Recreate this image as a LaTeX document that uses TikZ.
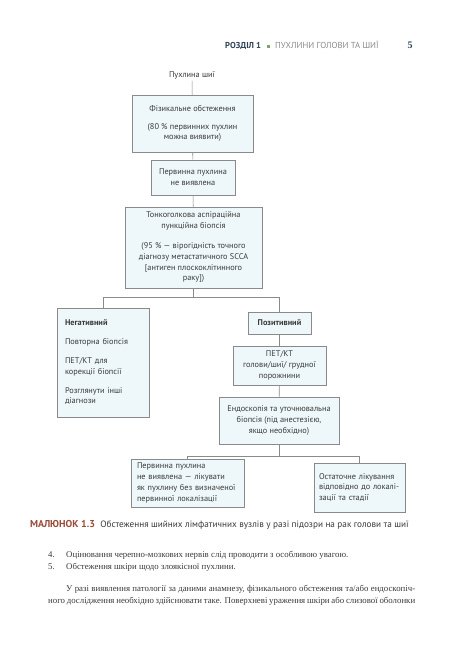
\documentclass[tikz,border=0pt]{standalone}
\usepackage{fontspec}
\setmainfont{PT Sans}
\newfontfamily\bodyfont{Liberation Serif}
\usetikzlibrary{positioning,calc}
\definecolor{Ink}{HTML}{3A3A3A}
\definecolor{Frame}{HTML}{8A8A8A}
\definecolor{Pale}{HTML}{EEF8FA}
\definecolor{Navy}{HTML}{2F4257}
\definecolor{Leaf}{HTML}{7FA36A}
\definecolor{Rust}{HTML}{9B4A38}
\definecolor{Greyish}{HTML}{8C8C8C}
\tikzset{
 box/.style={draw=Frame,fill=Pale,line width=0.6pt,align=center,text=Ink,font=\fontsize{8.3}{10.8}\selectfont,inner sep=4pt},
 leftbox/.style={box,align=left},
 link/.style={draw=Frame,line width=0.6pt},
 bodyline/.style={anchor=base west,inner sep=0pt,text=Ink,font=\bodyfont\fontsize{8.8}{11}\selectfont}
}
\begin{document}
\begin{tikzpicture}[x=1pt,y=-1pt]
\useasboundingbox[fill=white] (0,0) rectangle (469,650);
% running head
\node[anchor=base west,inner sep=0pt,text=Navy,font=\bfseries\fontsize{8.6}{10}\selectfont] (chap) at (225,49) {РОЗДІЛ 1};
\node[fill=Leaf,inner sep=0pt,minimum size=3pt,right=5pt of chap] (dot) {};
\node[anchor=base west,inner sep=0pt,text=Greyish,font=\fontsize{8.7}{10}\selectfont] (runtitle) at (275,49) {ПУХЛИНИ ГОЛОВИ ТА ШИЇ};
\node[anchor=base,inner sep=0pt,text=Navy,font=\bodyfont\bfseries\fontsize{10}{12}\selectfont] (pageno) at (410,49) {5};
% the chart
\node[text=Ink,font=\fontsize{8.3}{10}\selectfont,inner sep=2pt] (neck) at (192,75) {Пухлина шиї};
\node[box,minimum width=121pt,minimum height=57pt] (exam) at (192.5,123.5) {Фізикальне обстеження\\[7pt](80 \% первинних пухлин\\можна виявити)};
\node[box,minimum width=84pt,minimum height=35pt] (nofind) at (193,177.5) {Первинна пухлина\\не виявлена};
\node[box,minimum width=137pt,minimum height=81pt] (fna) at (193.5,247.5) {Тонкоголкова аспіраційна\\пункційна біопсія\\[9pt](95 \% — вірогідність точного\\діагнозу метастатичного SCCA\\[0pt][антиген плоскоклітинного\\раку])};
\node[leftbox,text width=76pt,inner xsep=8pt,minimum height=109pt] (neg) at (103,362.5) {\textbf{Негативний}\\[8pt]Повторна біопсія\\[8pt]ПЕТ/КТ для\\корекції біопсії\\[8pt]Розглянути інші\\діагнози};
\node[box,minimum width=63pt,minimum height=22pt] (pos) at (279.5,323) {\textbf{Позитивний}};
\node[box,minimum width=93pt,minimum height=39pt] (pet) at (279.5,365.5) {ПЕТ/КТ\\голови/шиї/ грудної\\порожнини};
\node[box,minimum width=120pt,minimum height=47pt] (endo) at (279,420.5) {Ендоскопія та уточнювальна\\біопсія (під анестезією,\\якщо необхідно)};
\node[leftbox,text width=101pt,inner xsep=6pt,minimum height=41pt] (unknown) at (187.5,483) {Первинна пухлина\\не виявлена — лікувати\\як пухлину без визначеної\\первинної локалізації};
\node[leftbox,text width=81pt,inner xsep=5pt,minimum height=49pt] (final) at (359.5,487.5) {Остаточне лікування\\відповідно до локалі-\\зації та стадії};
\foreach \x/\y in {neck/exam,exam/nofind,nofind/fna,pos/pet,pet/endo} \draw[link] (\x)--(\y);
\coordinate (split1) at ($(fna.south)+(0,9)$);
\coordinate (split2) at ($(endo.south)+(0,12)$);
\draw[link] (fna.south)--(split1);
\draw[link] (neg.north) |- (split1) -| (pos.north);
\draw[link] (endo.south)--(split2);
\draw[link] (unknown.north) |- (split2) -| (final.north);
% caption
\node[anchor=base west,inner sep=0pt,text=Rust,font=\bfseries\fontsize{10}{12}\selectfont] (figno) at (30,527) {МАЛЮНОК 1.3};
\node[anchor=base west,inner sep=0pt,text=Ink,font=\fontsize{9.2}{11}\selectfont] (figcap) at ($(figno.base east)+(5,0)$) {Обстеження шийних лімфатичних вузлів у разі підозри на рак голови та шиї};
% body text
\node[bodyline] (n4) at (48,557) {4.};
\node[bodyline] (item4) at (66,557) {Оцінювання черепно-мозкових нервів слід проводити з особливою увагою.};
\node[bodyline] (n5) at (48,569) {5.};
\node[bodyline] (item5) at (66,569) {Обстеження шкіри щодо злоякісної пухлини.};
\node[bodyline] (par1) at (66,591) {\hbox to 349pt{У разі виявлення патології за даними анамнезу, фізикального обстеження та/або ендоскопіч-}};
\node[bodyline] (par2) at (48,603) {\hbox to 367pt{ного дослідження необхідно здійснювати таке. Поверхневі ураження шкіри або слизової оболонки}};
\end{tikzpicture}
\end{document}
